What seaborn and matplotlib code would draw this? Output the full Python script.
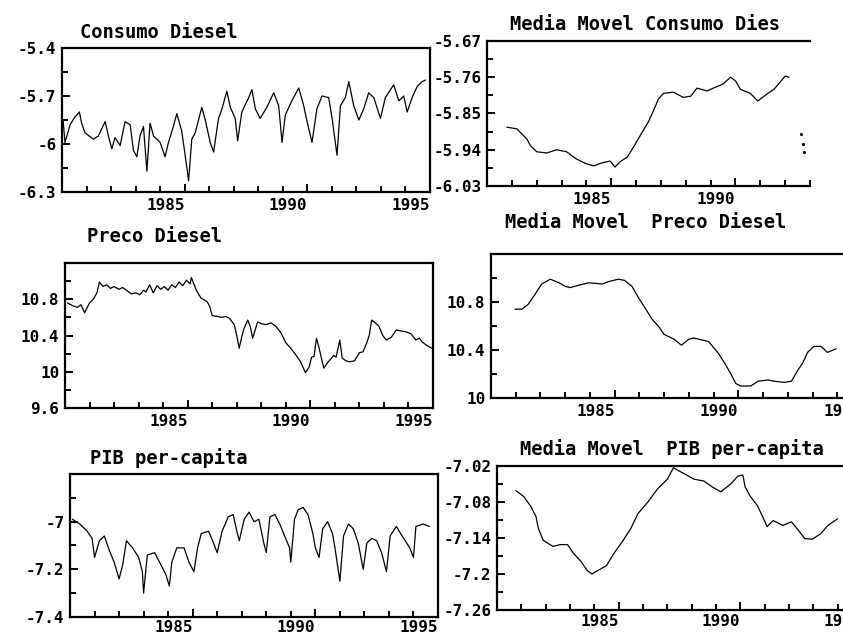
import numpy as np
import pandas as pd
import matplotlib
matplotlib.use("Agg")
import matplotlib.pyplot as plt
import seaborn as sns
from matplotlib.ticker import MultipleLocator, FormatStrFormatter

# ---------------- data ----------------
titles = ["Consumo Diesel", "Media Movel Consumo Dies",
          "Preco Diesel", "Media Movel  Preco Diesel",
          "PIB per-capita", "Media Movel  PIB per-capita"]

cd_year = [1980.05, 1980.12, 1980.33, 1980.53, 1980.71, 1980.80, 1980.94, 1981.28, 1981.48,
           1981.76, 1981.89, 1982.03, 1982.16, 1982.37, 1982.57, 1982.78, 1982.91, 1983.05,
           1983.18, 1983.32, 1983.46, 1983.59, 1983.73, 1984.00, 1984.20, 1984.34, 1984.54,
           1984.68, 1984.88, 1985.02, 1985.16, 1985.29, 1985.43, 1985.70, 1985.84, 1986.04,
           1986.18, 1986.38, 1986.52, 1986.72, 1986.86, 1987.06, 1987.16, 1987.33, 1987.61,
           1987.74, 1987.88, 1988.08, 1988.35, 1988.63, 1988.83, 1988.97, 1989.10, 1989.37,
           1989.65, 1989.85, 1989.99, 1990.19, 1990.39, 1990.60, 1990.87, 1991.01, 1991.21,
           1991.35, 1991.55, 1991.69, 1991.89, 1992.10, 1992.30, 1992.50, 1992.71, 1992.98,
           1993.18, 1993.52, 1993.73, 1993.93, 1994.07, 1994.27, 1994.48, 1994.68, 1994.82]
cd_val = [-5.86, -5.99, -5.88, -5.83, -5.80, -5.87, -5.93, -5.97, -5.95,
          -5.86, -5.95, -6.03, -5.96, -6.01, -5.86, -5.88, -6.04, -6.08,
          -5.95, -5.89, -6.17, -5.87, -5.95, -5.99, -6.08, -5.99, -5.89,
          -5.81, -5.92, -6.07, -6.23, -5.97, -5.93, -5.77, -5.85, -5.99,
          -6.05, -5.84, -5.78, -5.67, -5.77, -5.84, -5.98, -5.80, -5.71,
          -5.66, -5.78, -5.84, -5.77, -5.68, -5.76, -5.99, -5.82, -5.73,
          -5.65, -5.76, -5.86, -5.99, -5.78, -5.70, -5.71, -5.84, -6.07,
          -5.76, -5.71, -5.61, -5.76, -5.85, -5.78, -5.68, -5.71, -5.84,
          -5.71, -5.63, -5.73, -5.70, -5.80, -5.71, -5.64, -5.61, -5.60]

mmcd_year = [1980.8, 1981.2, 1981.6, 1981.75, 1982.0, 1982.4, 1982.8, 1983.2, 1983.6, 1984.0,
             1984.3, 1984.6, 1984.95, 1985.15, 1985.35, 1985.65, 1985.9, 1986.25, 1986.5,
             1986.7, 1986.9, 1987.1, 1987.5, 1987.9, 1988.2, 1988.45, 1988.85, 1989.3,
             1989.5, 1989.8, 1990.0, 1990.2, 1990.6, 1990.9, 1991.3, 1991.55, 1991.8,
             1992.0, 1992.15]
mmcd_val = [-5.884, -5.888, -5.913, -5.930, -5.945, -5.948, -5.940, -5.945, -5.963, -5.975,
            -5.980, -5.973, -5.968, -5.983, -5.970, -5.958, -5.933, -5.896, -5.870,
            -5.843, -5.814, -5.800, -5.797, -5.810, -5.807, -5.787, -5.794, -5.782,
            -5.777, -5.760, -5.769, -5.790, -5.800, -5.819, -5.800, -5.790, -5.772,
            -5.757, -5.760]
mmcd_tail_year = [1992.62, 1992.70, 1992.76]
mmcd_tail_val = [-5.900, -5.925, -5.945]

pd_year = [1980.1, 1980.3, 1980.5, 1980.65, 1980.8, 1981.0, 1981.15, 1981.3, 1981.4, 1981.55,
           1981.7, 1981.85, 1982.0, 1982.2, 1982.35, 1982.5, 1982.7, 1982.9, 1983.05, 1983.2,
           1983.3, 1983.45, 1983.6, 1983.75, 1983.9, 1984.05, 1984.2, 1984.35, 1984.5, 1984.65,
           1984.8, 1984.95, 1985.1, 1985.15, 1985.35, 1985.55, 1985.7, 1985.8, 1985.9, 1986.0,
           1986.2, 1986.4, 1986.55, 1986.7, 1986.9, 1987.0, 1987.1, 1987.2, 1987.3, 1987.45,
           1987.55, 1987.65, 1987.75, 1987.85, 1988.0, 1988.2, 1988.4, 1988.6, 1988.8, 1989.0,
           1989.2, 1989.4, 1989.6, 1989.8, 1989.95, 1990.05, 1990.15, 1990.25, 1990.35, 1990.45,
           1990.55, 1990.7, 1990.8, 1990.95, 1991.05, 1991.2, 1991.3, 1991.45, 1991.6, 1991.8,
           1992.0, 1992.15, 1992.3, 1992.4, 1992.5, 1992.65, 1992.8, 1992.95, 1993.1, 1993.3,
           1993.5, 1993.7, 1993.9, 1994.1, 1994.3, 1994.45, 1994.55, 1994.75, 1994.95]
pd_val = [10.76, 10.73, 10.71, 10.74, 10.65, 10.76, 10.80, 10.87, 10.99, 10.94,
          10.96, 10.92, 10.94, 10.91, 10.93, 10.90, 10.86, 10.87, 10.85, 10.90,
          10.88, 10.96, 10.87, 10.95, 10.91, 10.94, 10.90, 10.96, 10.93, 10.99,
          10.95, 11.01, 10.97, 11.04, 10.90, 10.81, 10.79, 10.77, 10.72, 10.62,
          10.61, 10.60, 10.61, 10.59, 10.52, 10.40, 10.26, 10.38, 10.48, 10.57,
          10.50, 10.37, 10.46, 10.55, 10.53, 10.52, 10.54, 10.50, 10.43, 10.32,
          10.26, 10.19, 10.11, 9.99, 10.05, 10.16, 10.17, 10.37, 10.27, 10.15,
          10.04, 10.10, 10.13, 10.18, 10.16, 10.35, 10.15, 10.12, 10.11, 10.12,
          10.21, 10.22, 10.32, 10.40, 10.57, 10.54, 10.50, 10.40, 10.35, 10.38,
          10.46, 10.45, 10.44, 10.42, 10.35, 10.37, 10.33, 10.29, 10.26]

mmpd_year = [1980.97, 1981.25, 1981.5, 1981.8, 1982.05, 1982.4, 1982.75, 1983.0, 1983.2,
             1983.55, 1983.95, 1984.5, 1984.75, 1985.15, 1985.4, 1985.7, 1985.95, 1986.2,
             1986.5, 1986.8, 1987.0, 1987.4, 1987.7, 1988.0, 1988.2, 1988.4, 1988.8, 1989.2,
             1989.45, 1989.7, 1989.9, 1990.1, 1990.5, 1990.8, 1991.2, 1991.45, 1991.85,
             1992.15, 1992.4, 1992.6, 1992.8, 1993.05, 1993.35, 1993.6, 1993.95]
mmpd_val = [10.74, 10.74, 10.78, 10.87, 10.95, 10.99, 10.96, 10.93, 10.92,
            10.94, 10.96, 10.95, 10.97, 10.99, 10.98, 10.93, 10.84, 10.76,
            10.66, 10.59, 10.53, 10.49, 10.44, 10.49, 10.50, 10.49, 10.47, 10.37,
            10.29, 10.20, 10.12, 10.10, 10.10, 10.14, 10.15, 10.14, 10.13,
            10.14, 10.23, 10.29, 10.38, 10.43, 10.43, 10.38, 10.41]

pib_year = [1980.1, 1980.4, 1980.7, 1980.9, 1981.0, 1981.2, 1981.4, 1981.6, 1981.8, 1982.0,
            1982.15, 1982.3, 1982.55, 1982.8, 1982.95, 1983.0, 1983.15, 1983.45, 1983.7, 1983.9,
            1984.05, 1984.15, 1984.35, 1984.65, 1984.85, 1985.05, 1985.2, 1985.35, 1985.65,
            1985.85, 1986.0, 1986.2, 1986.45, 1986.65, 1986.8, 1986.9, 1987.1, 1987.3, 1987.5,
            1987.7, 1987.9, 1988.0, 1988.15, 1988.35, 1988.55, 1988.75, 1988.95, 1989.0,
            1989.15, 1989.3, 1989.5, 1989.7, 1989.9, 1990.0, 1990.15, 1990.3, 1990.5, 1990.7,
            1990.8, 1991.0, 1991.15, 1991.35, 1991.55, 1991.75, 1991.95, 1992.1, 1992.3,
            1992.5, 1992.7, 1992.9, 1993.05, 1993.3, 1993.6, 1993.85, 1994.0, 1994.1, 1994.4,
            1994.65]
pib_val = [-6.99, -7.01, -7.04, -7.07, -7.15, -7.08, -7.06, -7.12, -7.17, -7.24,
           -7.18, -7.08, -7.11, -7.15, -7.21, -7.30, -7.14, -7.13, -7.18, -7.22,
           -7.27, -7.17, -7.11, -7.11, -7.17, -7.21, -7.11, -7.05, -7.04,
           -7.09, -7.13, -7.04, -6.98, -6.97, -7.04, -7.08, -6.99, -6.96, -7.00,
           -6.99, -7.09, -7.13, -6.98, -6.97, -7.01, -7.06, -7.11, -7.17,
           -6.99, -6.95, -6.94, -6.97, -7.05, -7.11, -7.15, -7.03, -7.00, -7.05,
           -7.11, -7.25, -7.06, -7.01, -7.03, -7.09, -7.20, -7.09, -7.07,
           -7.08, -7.13, -7.21, -7.06, -7.02, -7.07, -7.11, -7.15, -7.02, -7.01,
           -7.02]

mmpib_year = [1980.78, 1981.1, 1981.4, 1981.6, 1981.7, 1981.9, 1982.3, 1982.6, 1982.9, 1983.15,
              1983.45, 1983.7, 1983.9, 1984.15, 1984.5, 1984.8, 1985.15, 1985.5, 1985.8, 1986.2,
              1986.6, 1987.0, 1987.25, 1987.7, 1988.1, 1988.5, 1988.85, 1989.2, 1989.6, 1989.9,
              1990.1, 1990.2, 1990.4, 1990.7, 1990.9, 1991.1, 1991.35, 1991.75, 1992.1, 1992.4,
              1992.65, 1992.95, 1993.3, 1993.6, 1994.0]
mmpib_val = [-7.061, -7.071, -7.088, -7.104, -7.124, -7.144, -7.154, -7.151, -7.151, -7.166,
             -7.179, -7.194, -7.200, -7.194, -7.186, -7.166, -7.146, -7.124, -7.099, -7.080,
             -7.058, -7.042, -7.023, -7.033, -7.042, -7.045, -7.055, -7.063, -7.050, -7.037,
             -7.035, -7.055, -7.070, -7.086, -7.103, -7.121, -7.111, -7.119, -7.113, -7.128,
             -7.141, -7.142, -7.133, -7.119, -7.108]

xticks_left = [1985, 1990, 1995]
xticks_tr = [1985, 1990]
xticks_right = [1985, 1990, 1995]
yticks_cd = [-6.3, -6.0, -5.7, -5.4]
yticks_mmcd = [-6.03, -5.94, -5.85, -5.76, -5.67]
yticks_pd = [9.6, 10.0, 10.4, 10.8]
yticks_mmpd = [10.0, 10.4, 10.8]
yticks_pib = [-7.4, -7.2, -7.0]
yticks_mmpib = [-7.26, -7.2, -7.14, -7.08, -7.02]

# ---------------- style ----------------
sns.set_theme(style="ticks")
plt.rcParams['font.family'] = ['DejaVu Sans Mono', 'DejaVu Sans']
plt.rcParams['font.weight'] = 'bold'
plt.rcParams['axes.unicode_minus'] = False

W, H = 843, 636
fig = plt.figure(figsize=(W / 100, H / 100), dpi=100)
fig.patch.set_facecolor('white')


def add_ax(l, r, t, b):
    ax = fig.add_axes([l / W, 1 - b / H, (r - l) / W, (b - t) / H])
    ax.set_facecolor('white')
    return ax


def style(ax, xlim, ylim, xt, yt, yminor, right_spine=True, xpad=4):
    ax.set_xlim(*xlim)
    ax.set_ylim(*ylim)
    ax.set_xticks(xt)
    ax.set_yticks(yt)
    ax.xaxis.set_minor_locator(MultipleLocator(1))
    ax.yaxis.set_minor_locator(MultipleLocator(yminor))
    ax.xaxis.set_major_formatter(FormatStrFormatter('%d'))
    ax.yaxis.set_major_formatter(FormatStrFormatter('%g'))
    ax.tick_params(which='both', direction='in', top=False, right=False,
                   width=1.4, color='black', labelcolor='black', labelsize=11.5)
    ax.tick_params(which='major', length=6)
    ax.tick_params(axis='y', which='major', pad=4)
    ax.tick_params(axis='x', which='major', pad=xpad)
    ax.tick_params(which='minor', length=4)
    for lab in ax.get_xticklabels():
        lab.set_horizontalalignment('right')
        lab.set_fontweight('bold')
    for lab in ax.get_yticklabels():
        lab.set_fontweight('bold')
    for name, sp in ax.spines.items():
        sp.set_color('black')
        sp.set_linewidth(1.6)
        sp.set_visible(True)
    if not right_spine:
        ax.spines['right'].set_visible(False)
    ax.set_xlabel('')
    ax.set_ylabel('')


line_kw = dict(color='black', linewidth=0.9, estimator=None, sort=False, legend=False)

# Top-left
ax1 = add_ax(62, 430, 48, 192)
sns.lineplot(x=cd_year, y=cd_val, ax=ax1, **line_kw)
style(ax1, (1980, 1995), (-6.3, -5.4), xticks_left, yticks_cd, 0.15)

# Top-right
ax2 = add_ax(487, 810, 41, 186)
sns.lineplot(x=mmcd_year, y=mmcd_val, ax=ax2, **line_kw)
sns.scatterplot(x=mmcd_tail_year, y=mmcd_tail_val, ax=ax2, color='black', s=5,
                linewidth=0, legend=False)
style(ax2, (1980, 1993), (-6.03, -5.67), xticks_tr, yticks_mmcd, 0.045, right_spine=False)

# Middle-left
ax3 = add_ax(65, 433, 263, 408)
sns.lineplot(x=pd_year, y=pd_val, ax=ax3, **line_kw)
style(ax3, (1980, 1995), (9.6, 11.2), xticks_left, yticks_pd, 0.2)

# Middle-right
ax4 = add_ax(491, 862, 254, 398)
sns.lineplot(x=mmpd_year, y=mmpd_val, ax=ax4, **line_kw)
style(ax4, (1980, 1995), (10.0, 11.2), xticks_right, yticks_mmpd, 0.2, right_spine=False)

# Bottom-left
ax5 = add_ax(70, 438, 474, 617)
sns.lineplot(x=pib_year, y=pib_val, ax=ax5, **line_kw)
style(ax5, (1980, 1995), (-7.4, -6.8), xticks_left, yticks_pib, 0.1, xpad=2)

# Bottom-right
ax6 = add_ax(497, 862, 466, 610)
sns.lineplot(x=mmpib_year, y=mmpib_val, ax=ax6, **line_kw)
style(ax6, (1980, 1995), (-7.26, -7.02), xticks_right, yticks_mmpib, 0.03,
      right_spine=False, xpad=3)

# Titles
title_pos = [(80, 33), (510, 25), (87, 237), (505, 223), (90, 458), (520, 449)]
for txt, (px, py) in zip(titles, title_pos):
    fig.text(px / W, 1 - py / H, txt, ha='left', va='center', fontsize=13.5,
             fontweight='bold', color='black')

fig.savefig('out.png', dpi=100, facecolor='white')
